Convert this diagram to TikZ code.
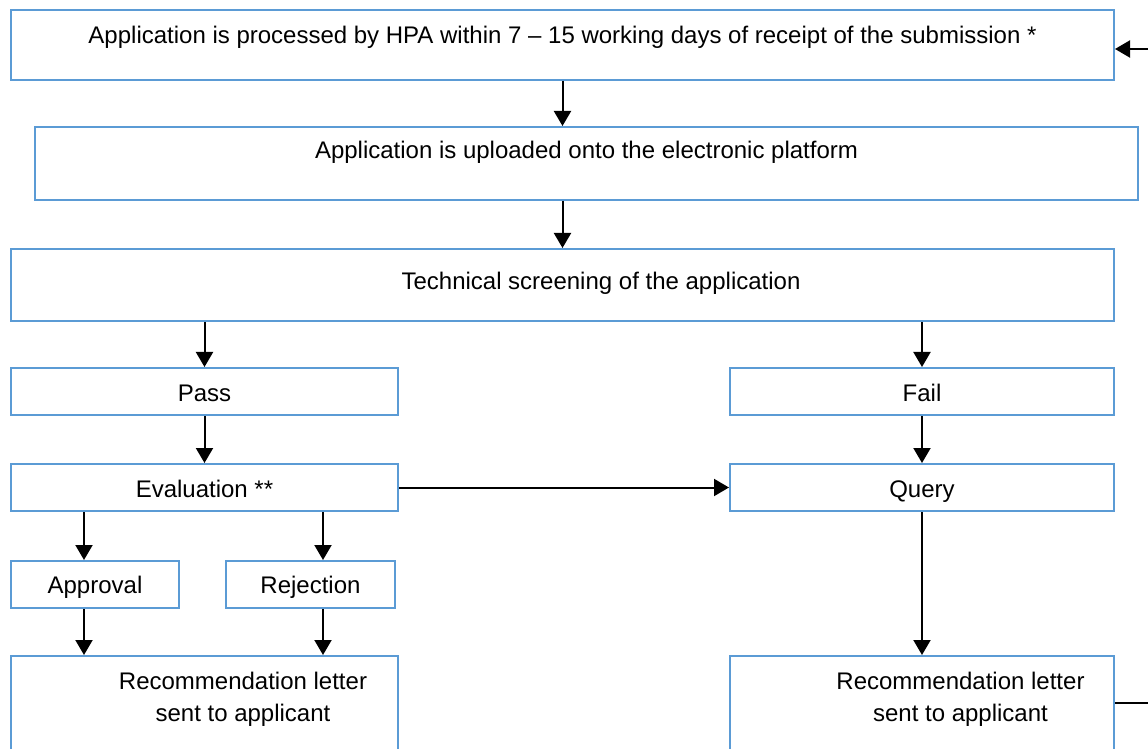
\documentclass[tikz,border=0pt]{standalone}
\usepackage{fontspec}
\setmainfont{Liberation Sans}
\usetikzlibrary{arrows.meta}
\definecolor{cBox}{HTML}{5B9BD5}

\tikzset{
	box/.style={draw=cBox, line width=1pt, anchor=north west, inner sep=0pt},
	txt/.style={anchor=base, inner sep=0pt, font=\fontsize{12}{16}\selectfont, align=center},
	arr/.style={line width=1pt, -{Triangle[length=7.5pt,width=8.5pt]}}
}

\begin{document}
\begin{tikzpicture}[x=0.5pt, y=-0.5pt]
		\clip (0,0) rectangle (1148,749);
		% boxes
		\node[box, minimum width=551.5pt, minimum height=35pt] (proc) at (10,9) {};
		\node[box, minimum width=551.5pt, minimum height=36.5pt] (upload) at (34,126) {};
		\node[box, minimum width=551.5pt, minimum height=36pt] (screen) at (10,248) {};
		\node[box, minimum width=193.5pt, minimum height=23.5pt] (pass) at (10,367) {};
		\node[box, minimum width=192pt, minimum height=23.5pt] (fail) at (729,367) {};
		\node[box, minimum width=193.5pt, minimum height=23.5pt] (eval) at (10,463) {};
		\node[box, minimum width=192pt, minimum height=23.5pt] (query) at (729,463) {};
		\node[box, minimum width=84pt, minimum height=23.5pt] (approval) at (10,560) {};
		\node[box, minimum width=84.5pt, minimum height=23.5pt] (rejection) at (225,560) {};
		\node[box, minimum width=193.5pt, minimum height=60pt] (recL) at (10,655) {};
		\node[box, minimum width=192pt, minimum height=60pt] (recR) at (729,655) {};
		% texts
		\node[txt] at ([yshift=-17.5pt]proc.north) {Application is processed by HPA within 7 -- 15 working days of receipt of the submission *};
		\node[txt] at ([yshift=-16.5pt]upload.north) {Application is uploaded onto the electronic platform};
		\node[txt] at ([xshift=19.25pt, yshift=-21pt]screen.north) {Technical screening of the application};
		\node[txt] at ([yshift=-17pt]pass.north) {Pass};
		\node[txt] at ([yshift=-17pt]fail.north) {Fail};
		\node[txt] at ([yshift=-17pt]eval.north) {Evaluation **};
		\node[txt] at ([yshift=-17pt]query.north) {Query};
		\node[txt] at ([yshift=-16.5pt]approval.north) {Approval};
		\node[txt] at ([yshift=-16.5pt]rejection.north) {Rejection};
		\node[txt] at ([xshift=19.25pt, yshift=-33pt]recL.north) {Recommendation letter\\ sent to applicant};
		\node[txt] at ([xshift=19.25pt, yshift=-33pt]recR.north) {Recommendation letter\\ sent to applicant};
		% arrows
		\draw[arr] (proc.south) -- (proc.south |- upload.north);
		\draw[arr] (upload.south -| proc.south) -- (proc.south |- screen.north);
		\draw[arr] (screen.south -| pass.north) -- (pass.north);
		\draw[arr] (screen.south -| fail.north) -- (fail.north);
		\draw[arr] (pass.south) -- (eval.north);
		\draw[arr] (fail.south) -- (query.north);
		\draw[arr] (eval.east) -- (query.west);
		\draw[arr] ([xshift=-5.5pt]approval.north |- eval.south) -- ([xshift=-5.5pt]approval.north);
		\draw[arr] ([xshift=6.25pt]rejection.north |- eval.south) -- ([xshift=6.25pt]rejection.north);
		\draw[arr] ([xshift=-5.5pt]approval.south) -- ([xshift=-5.5pt]approval.south |- recL.north);
		\draw[arr] ([xshift=6.25pt]rejection.south) -- ([xshift=6.25pt]rejection.south |- recL.north);
		\draw[arr] (query.south) -- (recR.north);
		% loop back
		\coordinate (back) at (1160,49);
		\coordinate (out) at (1160,703);
		\draw[arr] (back) -- (back -| proc.east);
		\draw[line width=1pt] (out -| recR.east) -- (out);
\end{tikzpicture}
\end{document}
